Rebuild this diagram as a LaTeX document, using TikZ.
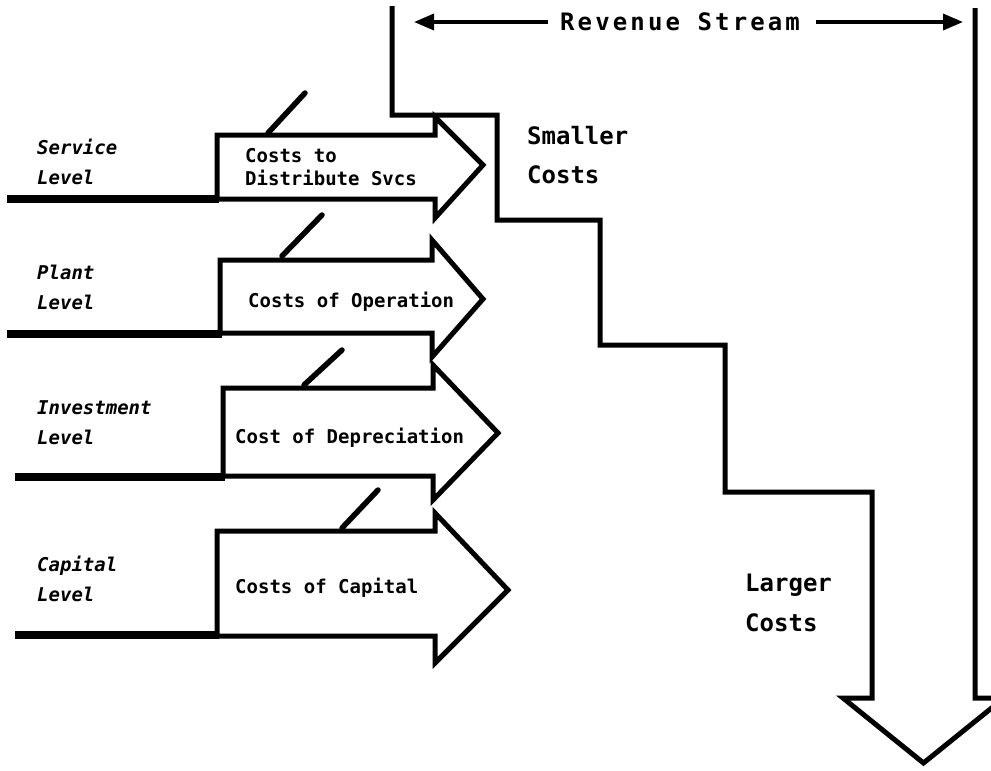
\documentclass[tikz,border=0pt]{standalone}
\usepackage{fontspec}
\newfontfamily\monofam{DejaVu Sans Mono}
\usetikzlibrary{arrows.meta}
\begin{document}
\begin{tikzpicture}[x=1pt,y=-1pt,
  outline/.style={line width=5pt,line join=miter,line cap=butt},
  feed/.style={line width=8pt,line cap=butt},
  slash/.style={line width=5.5pt,line cap=round},
  levellabel/.style={anchor=west,inner sep=0pt,align=left,
    font=\monofam\bfseries\itshape\fontsize{19}{30}\selectfont},
  costlabel/.style={anchor=west,inner sep=0pt,align=left,
    font=\monofam\bfseries\fontsize{19}{23}\selectfont},
  bigtext/.style={anchor=west,inner sep=0pt,align=left,
    font=\monofam\bfseries\fontsize{24}{39.5}\selectfont},
  revarrow/.style={line width=3.5pt,-{Triangle[length=20pt,width=16pt]}}]
\useasboundingbox (0,0) rectangle (991,771);
\clip (0,0) rectangle (991,771);

% staircase of growing costs, ending in a downward arrow
\draw[outline] (392,6) -- (392,115) -- (497,115) -- (497,220) -- (600,220)
  -- (600,345) -- (725,345) -- (725,492) -- (872,492) -- (872,698)
  -- (843,698) -- (923.5,763) -- (1004,698) -- (975,698) -- (975,8);

% revenue stream label with arrows to both walls
\node[anchor=west,inner sep=0pt,
  font=\monofam\bfseries\addfontfeature{LetterSpace=13}\fontsize{24}{28}\selectfont]
  (rev) at (560,22) {Revenue Stream};
\coordinate (revL) at (394,22);
\coordinate (revR) at (973,22);
\draw[revarrow] ([xshift=-12pt]rev.west) -- ([xshift=20pt]revL);
\draw[revarrow] ([xshift=16pt]rev.east) -- ([xshift=-10pt]revR);

\node[bigtext] (small) at (527,155) {Smaller\\Costs};
\node[bigtext] (large) at (745,603) {Larger\\Costs};

% service level
\draw[outline] (217,135) -- (435,135) -- (435,117) -- (483,165) -- (435,218)
  -- (435,199) -- (217,199) -- cycle;
\draw[feed] (7,199) -- (219,199);
\draw[slash] (268,133) -- (305,93);
\node[levellabel] (svc) at (37,162) {Service\\Level};
\node[costlabel] (svcc) at (245,167) {Costs to\\Distribute Svcs};

% plant level
\draw[outline] (220,260) -- (432,260) -- (432,240) -- (483,299) -- (432,357)
  -- (432,333) -- (220,333) -- cycle;
\draw[feed] (7,334) -- (222,334);
\draw[slash] (282,256) -- (322,215);
\node[levellabel] (pla) at (37,287) {Plant\\Level};
\node[costlabel] (plac) at (248,302) {Costs of Operation};

% investment level
\draw[outline] (223,388) -- (433,388) -- (433,365) -- (498,433) -- (433,500)
  -- (433,476) -- (223,476) -- cycle;
\draw[feed] (15,477) -- (225,477);
\draw[slash] (304,385) -- (342,350);
\node[levellabel] (inv) at (37,423) {Investment\\Level};
\node[costlabel] (invc) at (235,438) {Cost of Depreciation};

% capital level
\draw[outline] (217,531) -- (435,531) -- (435,513) -- (508,590) -- (435,663)
  -- (435,636) -- (217,636) -- cycle;
\draw[feed] (15,635) -- (219,635);
\draw[slash] (342,528) -- (378,490);
\node[levellabel] (cap) at (37,579) {Capital\\Level};
\node[costlabel] (capc) at (235,588) {Costs of Capital};
\end{tikzpicture}
\end{document}
